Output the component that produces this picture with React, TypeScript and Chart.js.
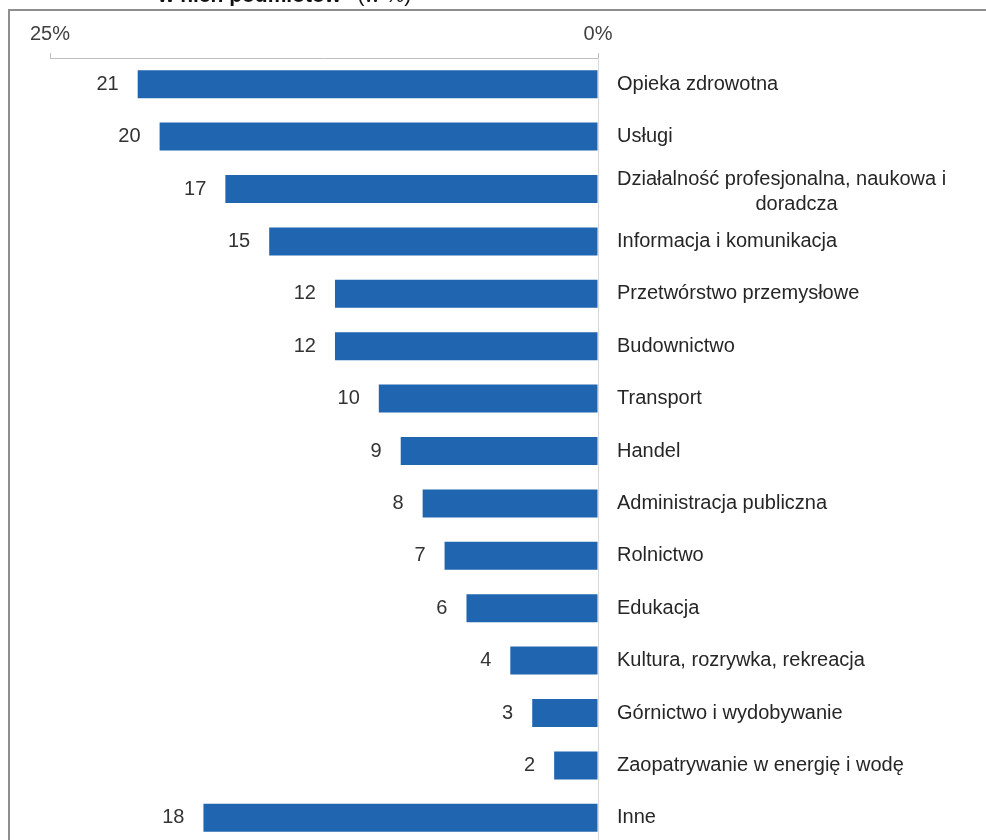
import React, { useEffect, useRef } from 'react';
import { Chart, registerables } from 'chart.js';

Chart.register(...registerables);

const categories: (string | string[])[] = [
  'Opieka zdrowotna',
  'Usługi',
  ['Działalność profesjonalna, naukowa i', 'doradcza'],
  'Informacja i komunikacja',
  'Przetwórstwo przemysłowe',
  'Budownictwo',
  'Transport',
  'Handel',
  'Administracja publiczna',
  'Rolnictwo',
  'Edukacja',
  'Kultura, rozrywka, rekreacja',
  'Górnictwo i wydobywanie',
  'Zaopatrywanie w energię i wodę',
  'Inne',
];
const values = [21, 20, 17, 15, 12, 12, 10, 9, 8, 7, 6, 4, 3, 2, 18];
const xTickValues = [0, 25];

const FONT = '"Liberation Sans", Arial, sans-serif';

const labelsPlugin = {
  id: 'customLabels',
  afterDatasetsDraw(chart: any) {
    const ctx = chart.ctx as CanvasRenderingContext2D;
    const meta = chart.getDatasetMeta(0);
    const yScale = chart.scales.y;
    const area = chart.chartArea;
    ctx.save();
    ctx.font = `20px ${FONT}`;
    ctx.textBaseline = 'middle';
    meta.data.forEach((bar: any, i: number) => {
      ctx.fillStyle = '#333333';
      ctx.textAlign = 'right';
      ctx.fillText(String(values[i]), bar.x - 19, bar.y);
      const lbl = categories[i];
      const y = yScale.getPixelForValue(i);
      const x0 = area.right + 19;
      ctx.fillStyle = '#262626';
      if (Array.isArray(lbl)) {
        const w1 = ctx.measureText(lbl[0]).width;
        ctx.textAlign = 'left';
        ctx.fillText(lbl[0], x0, y - 10);
        ctx.textAlign = 'center';
        ctx.fillText(lbl[1], x0 + (w1 + 30) / 2, y + 15);
      } else {
        ctx.textAlign = 'left';
        ctx.fillText(lbl, x0, y);
      }
    });
    ctx.restore();
  },
};

export default function App() {
  const ref = useRef<HTMLCanvasElement>(null);
  useEffect(() => {
    if (!ref.current) return;
    const chart = new Chart(ref.current, {
      type: 'bar',
      data: {
        labels: categories.map((c) => (Array.isArray(c) ? c.join(' ') : c)),
        datasets: [
          {
            data: values,
            backgroundColor: '#1f65b0',
            barPercentage: 0.535,
            categoryPercentage: 1,
          },
        ],
      },
      options: {
        indexAxis: 'y',
        animation: false,
        responsive: false,
        maintainAspectRatio: false,
        layout: { padding: { left: 50, right: 388, top: 15, bottom: 0 } },
        plugins: {
          legend: { display: false },
          tooltip: { enabled: false },
          title: { display: false },
        },
        scales: {
          x: {
            position: 'top',
            reverse: true,
            min: 0,
            max: 25,
            afterBuildTicks: (s: any) => {
              s.ticks = xTickValues.map((v) => ({ value: v }));
            },
            ticks: {
              callback: (v: any) => v + '%',
              font: { size: 20, family: FONT },
              color: '#404040',
              padding: 7,
              maxRotation: 0,
              autoSkip: false,
            },
            grid: {
              display: true,
              drawOnChartArea: false,
              drawTicks: true,
              tickLength: 5,
              color: '#bfbfbf',
            },
            border: { display: true, color: '#bfbfbf', width: 1 },
          },
          y: {
            position: 'right',
            ticks: { display: false },
            grid: { display: false, drawTicks: false },
            border: { display: true, color: '#d9d9d9', width: 1 },
          },
        },
      },
      plugins: [labelsPlugin],
    } as any);
    return () => chart.destroy();
  }, []);

  return (
    <div
      style={{
        position: 'absolute',
        left: 0,
        top: 0,
        width: 986,
        height: 840,
        overflow: 'hidden',
        background: '#ffffff',
      }}
    >
      <canvas
        ref={ref}
        width={986}
        height={844}
        style={{ position: 'absolute', left: 0, top: 0, width: 986, height: 844 }}
      />
      <div
        style={{
          position: 'absolute',
          left: 8,
          top: 9,
          width: 1100,
          height: 1000,
          border: '2px solid #8e8e8e',
          boxSizing: 'border-box',
          pointerEvents: 'none',
        }}
      />
      <div
        style={{
          position: 'absolute',
          left: 158,
          top: -16,
          fontFamily: FONT,
          fontSize: 21,
          lineHeight: '21px',
          whiteSpace: 'nowrap',
          color: '#111111',
        }}
      >
        <span style={{ fontWeight: 'bold' }}>w nich podmiotów”</span> (w %)
      </div>
    </div>
  );
}
